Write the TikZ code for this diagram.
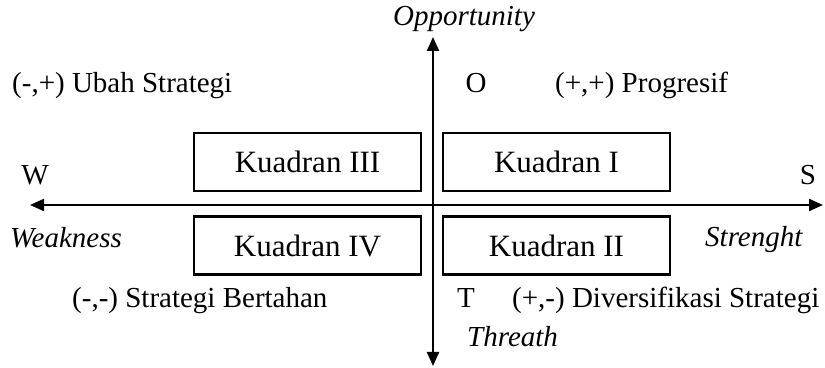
\documentclass[tikz,border=0pt]{standalone}
\usepackage{fontspec}
\setmainfont{Liberation Serif}
\usetikzlibrary{arrows.meta}

\begin{document}
\begin{tikzpicture}[x=1pt,y=1pt,
    axis/.style={line width=2.2pt, {Triangle[length=14pt,width=12pt]}-{Triangle[length=14pt,width=12pt]}},
    kbox/.style={draw, line width=2.4pt, minimum width=227pt, minimum height=58pt, inner sep=0pt, font=\fontsize{31}{36}\selectfont},
    lbl/.style={inner sep=0pt, font=\fontsize{29}{34}\selectfont}]
    \useasboundingbox (0,0) rectangle (825,367);

    % Axes
    \coordinate (W) at (30,162);
    \coordinate (E) at (823,162);
    \coordinate (N) at (433,330);
    \coordinate (Sd) at (433,1);
    \draw[axis] (W) -- (E);
    \draw[axis] (Sd) -- (N);

    % Quadrant boxes
    \node[kbox] (k3) at (307.5,205) {Kuadran III};
    \node[kbox] (k1) at (556.5,205) {Kuadran I};
    \node[kbox] (k4) at (307.5,121.5) {Kuadran IV};
    \node[kbox] (k2) at (556.5,121.5) {Kuadran II};

    % Axis labels
    \node[lbl, anchor=base, font=\fontsize{29}{34}\itshape] (opp) at (464,341) {Opportunity};
    \node[lbl, anchor=base west, font=\fontsize{29}{34}\itshape] (thr) at (467,20) {Threath};
    \node[lbl, anchor=base west, font=\fontsize{29}{34}\itshape] (weak) at (10,119) {Weakness};
    \node[lbl, anchor=base west, font=\fontsize{29}{34}\itshape] (str) at (705,120) {Strenght};
    \node[lbl, anchor=base] (w) at (35,182) {W};
    \node[lbl, anchor=base] (s) at (808,182) {S};
    \node[lbl, anchor=base] (o) at (476,274) {O};
    \node[lbl, anchor=base west] (t) at (457,59) {T};

    % Strategies
    \node[lbl, anchor=base west] (ubah) at (12,274) {(-,+) Ubah Strategi};
    \node[lbl, anchor=base west] (prog) at (555,274) {(+,+) Progresif};
    \node[lbl, anchor=base west] (bert) at (72,59) {(-,-) Strategi Bertahan};
    \node[lbl, anchor=base west] (div) at (512,59) {(+,-) Diversifikasi Strategi};
\end{tikzpicture}
\end{document}
